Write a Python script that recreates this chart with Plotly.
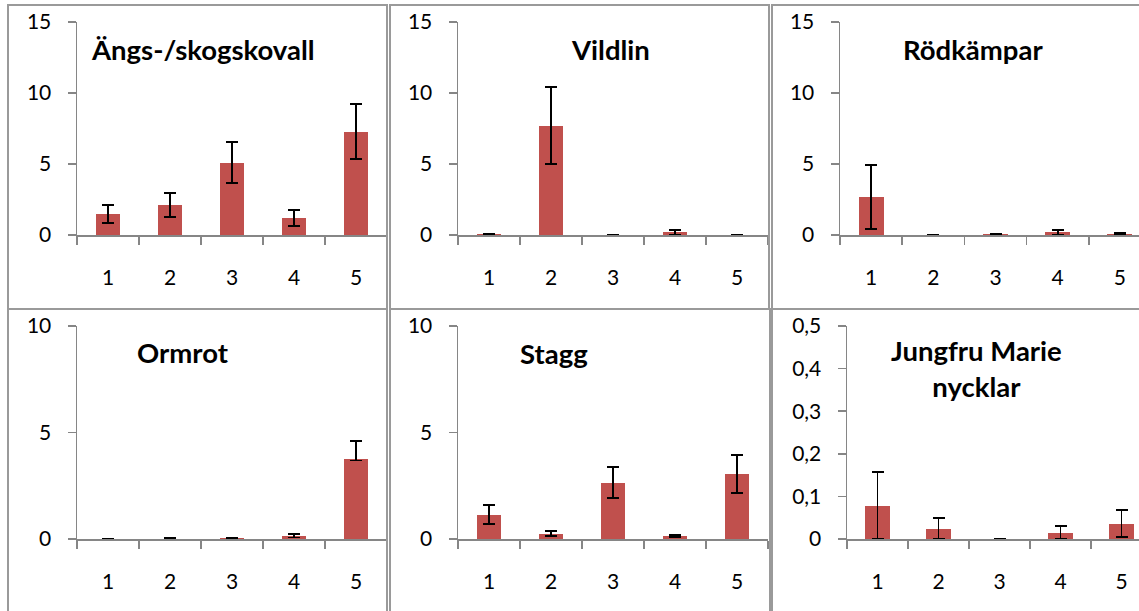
import plotly.graph_objects as go

W, H = 1139, 611

categories = [1, 2, 3, 4, 5]
cat_labels = ["1", "2", "3", "4", "5"]

titles = ["Ängs-/skogskovall", "Vildlin", "Rödkämpar", "Ormrot", "Stagg", "Jungfru Marie<br>nycklar"]

means = [
    [1.46, 2.09, 5.09, 1.17, 7.27],      # Ängs-/skogskovall
    [0.05, 7.70, 0.02, 0.19, 0.02],      # Vildlin
    [2.65, 0.02, 0.05, 0.19, 0.06],      # Rödkämpar
    [0.01, 0.02, 0.04, 0.16, 3.76],      # Ormrot
    [1.14, 0.25, 2.63, 0.14, 3.04],      # Stagg
    [0.078, 0.024, 0.0, 0.015, 0.036],   # Jungfru Marie nycklar
]
err_plus = [
    [0.63, 0.88, 1.47, 0.60, 1.93],
    [0.03, 2.70, 0.01, 0.16, 0.01],
    [2.28, 0.01, 0.04, 0.18, 0.10],
    [0.01, 0.01, 0.02, 0.09, 0.83],
    [0.44, 0.12, 0.75, 0.06, 0.90],
    [0.080, 0.025, 0.0, 0.015, 0.032],
]
err_minus = [
    [0.60, 0.80, 1.45, 0.55, 1.92],
    [0.03, 2.70, 0.01, 0.16, 0.01],
    [2.25, 0.01, 0.04, 0.18, 0.06],
    [0.01, 0.01, 0.02, 0.09, 0.07],
    [0.44, 0.12, 0.72, 0.06, 0.88],
    [0.078, 0.024, 0.0, 0.015, 0.032],
]

y_max = [15, 15, 15, 10, 10, 0.5]
y_ticks = [
    [0, 5, 10, 15], [0, 5, 10, 15], [0, 5, 10, 15],
    [0, 5, 10], [0, 5, 10],
    [0, 0.1, 0.2, 0.3, 0.4, 0.5],
]
y_ticktext = [
    ["0", "5", "10", "15"], ["0", "5", "10", "15"], ["0", "5", "10", "15"],
    ["0", "5", "10"], ["0", "5", "10"],
    ["0", "0,1", "0,2", "0,3", "0,4", "0,5"],
]

# layout in pixels: (axis x-left, category width, y of zero, y of top)
panels_px = [
    (77, 62.0, 235, 22),
    (458, 62.0, 235, 22),
    (840, 62.2, 235, 22),
    (77, 62.0, 539, 326),
    (458, 62.0, 539, 326),
    (847, 61.0, 539, 326),
]
title_px = [(203, 50), (610, 49), (973, 50), (183, 352), (554, 353), (976, 368)]
borders_px = [
    (8, 5, 387, 309), (390, 5, 769, 309), (772, 5, 1150, 309),
    (8, 309, 387, 620), (390, 309, 770, 620), (772, 309, 1150, 620),
]

BAR = "#C0504D"
AXIS = "#868686"
BORDER = "#9A9A9A"
FONT = "Lato"

fig = go.Figure()
for i in range(6):
    xl, cw, y0, yt = panels_px[i]
    xr = min(xl + 5 * cw, W)
    x_hi = 0.5 + (xr - xl) / cw
    sfx = "" if i == 0 else str(i + 1)
    fig.add_trace(go.Bar(
        x=categories, y=means[i], width=0.4, marker=dict(color=BAR, line=dict(width=0)),
        error_y=dict(type="data", symmetric=False, array=err_plus[i], arrayminus=err_minus[i],
                     color="black", thickness=1.8, width=6),
        xaxis="x" + sfx, yaxis="y" + sfx, showlegend=False, hoverinfo="skip",
    ))
    fig.layout["xaxis" + sfx] = dict(
        domain=[xl / W, xr / W], range=[0.5, x_hi], anchor="y" + sfx, automargin=False,
        tickmode="array", tickvals=categories, ticktext=cat_labels, ticks="",
        minor=dict(tickmode="array", tickvals=[c - 0.5 for c in categories] + [5.5],
                   ticks="outside", ticklen=8, tickcolor=AXIS, tickwidth=1.5, showgrid=False),
        showline=True, linecolor=AXIS, linewidth=1.5, showgrid=False, zeroline=False,
        ticklabelstandoff=23, tickfont=dict(family=FONT, size=21, color="black"),
        fixedrange=True,
    )
    fig.layout["yaxis" + sfx] = dict(
        domain=[1 - y0 / H, 1 - yt / H], range=[0, y_max[i]], anchor="x" + sfx, automargin=False,
        tickmode="array", tickvals=y_ticks[i], ticktext=y_ticktext[i],
        ticks="outside", ticklen=8, tickcolor=AXIS, tickwidth=1.5,
        showline=True, linecolor=AXIS, linewidth=1.5, showgrid=False, zeroline=False,
        ticklabelstandoff=12, tickfont=dict(family=FONT, size=21, color="black"),
        fixedrange=True,
    )
    tx, ty = title_px[i]
    fig.add_annotation(x=tx / W, y=1 - ty / H, xref="paper", yref="paper", text="<b>" + titles[i] + "</b>",
                       showarrow=False, font=dict(family=FONT, size=27.5, color="black"),
                       xanchor="center", yanchor="middle", align="center")
    bx0, by0, bx1, by1 = borders_px[i]
    fig.add_shape(type="rect", xref="paper", yref="paper",
                  x0=bx0 / W, x1=bx1 / W, y0=1 - by1 / H, y1=1 - by0 / H,
                  line=dict(color=BORDER, width=2), layer="above")

fig.update_layout(template="none", width=W, height=H, margin=dict(l=0, r=0, t=0, b=0, pad=0),
                  paper_bgcolor="white", plot_bgcolor="white", bargap=0)
fig.write_html("out.html", config={"displayModeBar": False, "staticPlot": True})

with open("out.html", encoding="utf-8") as f:
    html = f.read()
html = html.replace("<body>", '<body style="margin:0;padding:0;overflow:hidden">', 1)
with open("out.html", "w", encoding="utf-8") as f:
    f.write(html)
